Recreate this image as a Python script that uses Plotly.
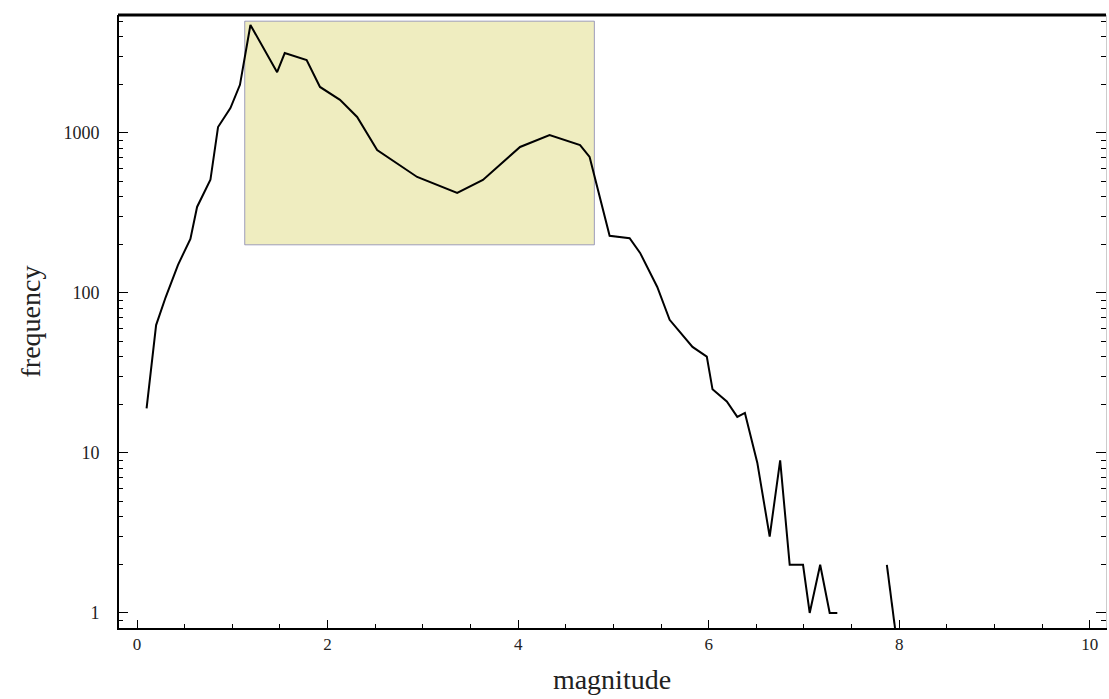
import plotly.graph_objects as go

# Magnitude histogram (counts per bin); None marks empty bins
magnitude = [0.1, 0.2, 0.3, 0.43, 0.56, 0.63, 0.77, 0.85, 0.98, 1.08,
             1.19, 1.47, 1.55, 1.78, 1.92, 2.13, 2.31, 2.52, 2.94, 3.36,
             3.63, 4.02, 4.33, 4.65, 4.75, 4.89, 4.96, 5.17, 5.28, 5.46,
             5.59, 5.83, 5.98, 6.04, 6.19, 6.30, 6.38, 6.51, 6.64, 6.75,
             6.85, 6.99, 7.06, 7.17, 7.27, 7.35, 7.6, 7.87, 8.0]
frequency = [19, 63, 94, 150, 218, 345, 510, 1090, 1430, 2000,
             4730, 2400, 3160, 2860, 1940, 1610, 1260, 783, 531, 422,
             509, 818, 972, 841, 708, 330, 228, 220, 178, 109,
             68, 46, 40, 25, 21, 16.8, 17.8, 8.7, 3, 9,
             2, 2, 1, 2, 1, 1, None, 2, 0.5]

# Highlighted magnitude band
band_x = [1.13, 4.8]
band_y = [200, 5000]

x_ticks = [0, 2, 4, 6, 8, 10]
y_ticks = [1, 10, 100, 1000]
y_tick_text = ["1", "10", "100", "1000"]

serif = "Liberation Serif"
ink = "#222222"

fig = go.Figure()

fig.add_trace(go.Scatter(x=magnitude, y=frequency, mode="lines",
                         line=dict(color="black", width=2),
                         connectgaps=False, showlegend=False))

fig.update_layout(
    width=1109, height=699,
    margin=dict(l=118, r=3, t=15, b=71),
    paper_bgcolor="white", plot_bgcolor="white",
    font=dict(family=serif, color=ink),
    xaxis=dict(range=[-0.2, 10.17], tickvals=x_ticks,
               ticks="inside", ticklen=8, tickcolor="black", tickwidth=1,
               minor=dict(dtick=0.5, ticks="inside", ticklen=4, tickcolor="black"),
               showgrid=False, zeroline=False,
               showline=True, linecolor="black", linewidth=2, mirror=False,
               tickfont=dict(size=17, family=serif, color=ink),
               title=dict(text="magnitude", font=dict(size=28, family=serif, color=ink),
                          standoff=16)),
    yaxis=dict(type="log", range=[-0.094, 3.7375],
               tickvals=y_ticks, ticktext=y_tick_text,
               ticks="inside", ticklen=10, tickcolor="black", tickwidth=1,
               minor=dict(dtick="D1", ticks="inside", ticklen=5, tickcolor="black"),
               showgrid=False, zeroline=False,
               showline=True, linecolor="#cccccc", linewidth=1, mirror="ticks",
               tickfont=dict(size=18, family=serif, color=ink),
               ticklabelstandoff=14,
               title=dict(text="frequency", font=dict(size=28, family=serif, color=ink),
                          standoff=14)),
)

# Highlighted band behind the curve
fig.add_shape(type="rect", xref="x", yref="y",
              x0=band_x[0], x1=band_x[1], y0=band_y[0], y1=band_y[1],
              fillcolor="rgb(239,237,192)", layer="below",
              line=dict(color="rgba(120,120,170,0.7)", width=1))

# Frame: heavy left and top edges
fig.add_shape(type="line", xref="paper", yref="paper", x0=0, x1=0, y0=0, y1=1,
              line=dict(color="black", width=2))
fig.add_shape(type="line", xref="paper", yref="paper", x0=0, x1=1, y0=1, y1=1,
              line=dict(color="black", width=3))

fig.write_html("out.html")
